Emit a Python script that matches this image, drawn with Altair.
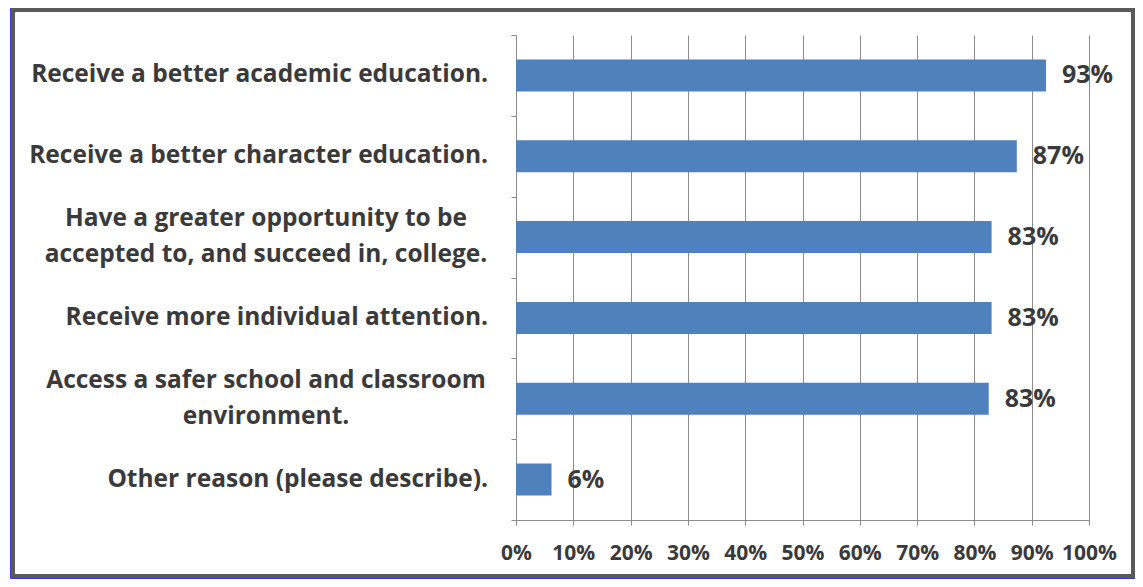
import altair as alt
import pandas as pd

categories = [
    "Receive a better academic education.",
    "Receive a better character education.",
    "Have a greater opportunity to be|accepted to, and succeed in, college.",
    "Receive more individual attention.",
    "Access a safer school and classroom|environment.",
    "Other reason (please describe).",
]
values = [0.925, 0.874, 0.83, 0.83, 0.825, 0.062]
value_labels = ["93%", "87%", "83%", "83%", "83%", "6%"]
x_ticks = [0, 0.1, 0.2, 0.3, 0.4, 0.5, 0.6, 0.7, 0.8, 0.9, 1.0]

df = pd.DataFrame({"cat": categories, "val": values, "lab": value_labels})
df["multi"] = df["cat"].str.contains("|", regex=False)

FONT = "Open Sans"
TXT = "#3a3a3a"
GRID = "#8c8c8c"

y_enc = alt.Y(
    "cat:N",
    sort=categories,
    title=None,
    scale=alt.Scale(paddingInner=0, paddingOuter=0),
    axis=alt.Axis(
        labels=False,
        tickBand="extent",
        tickSize=5,
        tickColor=GRID,
        domainColor=GRID,
        grid=False,
    ),
)

bars = alt.Chart(df).mark_bar(color="#4F81BD", size=32).encode(
    x=alt.X(
        "val:Q",
        title=None,
        scale=alt.Scale(domain=[0, 1], nice=False),
        axis=alt.Axis(
            values=x_ticks,
            format=".0%",
            labelOverlap=False,
            labelFlush=False,
            labelFont=FONT,
            labelFontSize=21,
            labelFontWeight="bold",
            labelColor=TXT,
            labelPadding=17,
            tickSize=5,
            tickColor=GRID,
            domainColor=GRID,
            gridColor=GRID,
            gridWidth=1,
        ),
    ),
    y=y_enc,
)

texts = alt.Chart(df).mark_text(
    align="left", baseline="middle", dx=16, font=FONT, fontSize=25, fontWeight="bold", color=TXT
).encode(
    x=alt.X("val:Q"),
    y=alt.Y("cat:N", sort=categories),
    text="lab:N",
)

cat_single = alt.Chart(df).transform_filter("!datum.multi").mark_text(
    align="right", baseline="middle", font=FONT, fontSize=24.5, fontWeight="bold", color=TXT
).encode(
    x=alt.value(-28),
    y=alt.Y("cat:N", sort=categories),
    text="cat:N",
)

cat_multi = alt.Chart(df).transform_filter("datum.multi").mark_text(
    align="center", baseline="middle", font=FONT, fontSize=24.5, fontWeight="bold", color=TXT,
    lineBreak="|", lineHeight=36, dy=-18,
).encode(
    x=alt.value(-250),
    y=alt.Y("cat:N", sort=categories),
    text="cat:N",
)

frame_df = pd.DataFrame({"f": [0]})
frame = alt.Chart(frame_df).mark_rect(fill=None, stroke="#5a5a5a", strokeWidth=4).encode(
    x=alt.value(-503), x2=alt.value(617), y=alt.value(-25), y2=alt.value(541)
)
frame_outer = alt.Chart(frame_df).mark_rect(fill=None, stroke="#3b3bd0", strokeWidth=1).encode(
    x=alt.value(-505.5), x2=alt.value(619.5), y=alt.value(-27.5), y2=alt.value(543.5)
)

chart = (
    alt.layer(frame_outer, frame, bars, texts, cat_single, cat_multi)
    .properties(
        width=573,
        height=485,
        autosize=alt.AutoSizeParams(type="none"),
        padding={"left": 508, "top": 27, "right": 46, "bottom": 59},
        background="white",
    )
    .configure_view(stroke=None)
)

chart.save("out.html", embed_options={"renderer": "svg", "actions": False})
